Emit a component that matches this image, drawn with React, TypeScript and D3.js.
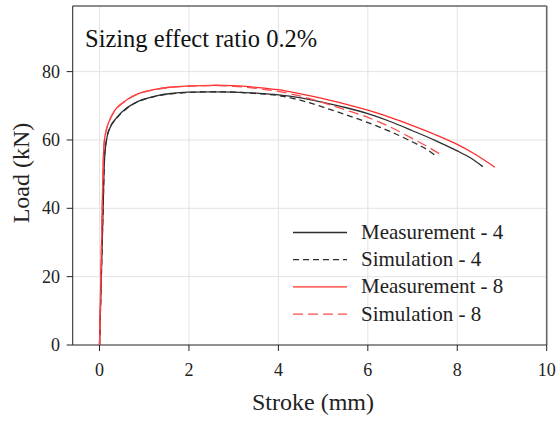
import React from "react";
import * as d3 from "d3";

const m4X = [0, 0.04, 0.08, 0.11, 0.13, 0.19, 0.27, 0.37, 0.5, 0.67, 0.9, 1.27, 1.6, 2, 2.5, 3, 3.5, 4, 4.5, 5, 5.5, 6, 6.5, 7, 7.5, 8, 8.3, 8.57];
const m4Y = [0, 20, 40, 54, 57.5, 62, 64.5, 66.3, 68.2, 69.9, 71.5, 72.9, 73.6, 74.0, 74.1, 74.0, 73.7, 73.2, 72.3, 71.0, 69.5, 67.7, 65.4, 62.7, 59.9, 56.8, 54.7, 52.2];

const s4X = [0, 0.04, 0.08, 0.11, 0.13, 0.19, 0.27, 0.37, 0.5, 0.67, 0.9, 1.27, 1.6, 2, 2.5, 3, 3.5, 4, 4.5, 5, 5.5, 6, 6.5, 7, 7.3, 7.54];
const s4Y = [0, 20, 40, 54, 57.8, 62.2, 64.6, 66.2, 68.0, 69.8, 71.4, 72.8, 73.5, 73.9, 74.1, 74.0, 73.6, 73.0, 71.6, 69.6, 67.4, 65.1, 62.5, 59.4, 57.4, 55.1];

const m8X = [0, 0.03, 0.06, 0.09, 0.11, 0.15, 0.2, 0.3, 0.4, 0.52, 0.7, 0.9, 1.27, 1.6, 2, 2.5, 3, 3.5, 4, 4.5, 5, 5.5, 6, 6.5, 7, 7.5, 8, 8.4, 8.84];
const m8Y = [0, 20, 40, 56, 60, 62.9, 65, 67.8, 69.6, 70.9, 72.5, 73.7, 74.9, 75.5, 75.8, 76.0, 75.9, 75.4, 74.7, 73.5, 72.1, 70.5, 68.7, 66.6, 64.2, 61.6, 58.7, 55.8, 52.0];

const s8X = [0, 0.03, 0.06, 0.09, 0.11, 0.15, 0.2, 0.3, 0.4, 0.52, 0.7, 0.9, 1.27, 1.6, 2, 2.5, 3, 3.5, 4, 4.5, 5, 5.5, 6, 6.5, 7, 7.3, 7.61];
const s8Y = [0, 20, 40, 56, 60, 62.8, 64.9, 67.7, 69.5, 70.8, 72.4, 73.6, 74.8, 75.4, 75.7, 75.9, 75.7, 75.1, 74.2, 72.8, 70.9, 68.8, 66.6, 63.8, 60.4, 58.3, 55.9];

const xTicks = [0, 2, 4, 6, 8, 10];
const yTicks = [0, 20, 40, 60, 80];
const legendLabels = ["Measurement - 4", "Simulation - 4", "Measurement - 8", "Simulation - 8"];

const FONT = "'Liberation Serif', 'Times New Roman', serif";

export default function App() {
  const x = d3.scaleLinear().domain([-0.6, 10]).range([72.7, 546.7]);
  const y = d3.scaleLinear().domain([0, 99.2]).range([345, 6]);

  const mk = (xs: number[], ys: number[]) =>
    d3
      .line<number>()
      .x((_, i) => x(xs[i]))
      .y((d) => y(d))
      .curve(d3.curveCatmullRom.alpha(0.5))(ys) as string;

  const series = [
    { d: mk(m4X, m4Y), color: "#2e2e2e", dash: "" },
    { d: mk(s4X, s4Y), color: "#2e2e2e", dash: "6,4" },
    { d: mk(m8X, m8Y), color: "#ff2b2b", dash: "" },
    { d: mk(s8X, s8Y), color: "#ff4a4a", dash: "10,5" },
  ];

  const [x0, x1] = x.range();
  const [yb, yt] = y.range();

  return (
    <svg width={558} height={423} style={{ position: "absolute", left: 0, top: 0, background: "#fff" }}>
      {xTicks.filter((t) => t < 10).map((t) => (
        <line key={"gx" + t} x1={x(t)} x2={x(t)} y1={yt} y2={yb} stroke="#e3e3e3" strokeWidth={1} />
      ))}
      {yTicks.filter((t) => t > 0).map((t) => (
        <line key={"gy" + t} x1={x0} x2={x1} y1={y(t)} y2={y(t)} stroke="#e3e3e3" strokeWidth={1} />
      ))}
      <line x1={x0} x2={x1} y1={yt} y2={yt} stroke="#666" strokeWidth={1.6} />
      <line x1={x1} x2={x1} y1={yt} y2={yb} stroke="#666" strokeWidth={1.6} />
      <line x1={x0} x2={x0} y1={yt} y2={yb} stroke="#222" strokeWidth={1} />
      <line x1={x0} x2={x1} y1={yb} y2={yb} stroke="#222" strokeWidth={1} />
      {yTicks.map((t) => (
        <g key={"ty" + t}>
          <line x1={x0 - 6} x2={x0} y1={y(t)} y2={y(t)} stroke="#222" strokeWidth={1} />
          <text x={60} y={y(t) + 6} textAnchor="end" fontFamily={FONT} fontSize={18} fill="#222">{t}</text>
        </g>
      ))}
      {xTicks.map((t) => (
        <g key={"tx" + t}>
          <line x1={x(t)} x2={x(t)} y1={yb} y2={yb + 6} stroke="#222" strokeWidth={1} />
          <text x={x(t)} y={376} textAnchor="middle" fontFamily={FONT} fontSize={18} fill="#222">{t}</text>
        </g>
      ))}
      {series.map((s, i) => (
        <path key={i} d={s.d} fill="none" stroke={s.color} strokeWidth={1.3} strokeDasharray={s.dash || undefined} />
      ))}
      <text x={85} y={47} fontFamily={FONT} fontSize={24.5} fill="#111">Sizing effect ratio 0.2%</text>
      <text x={313} y={410} textAnchor="middle" fontFamily={FONT} fontSize={24} fill="#222">Stroke (mm)</text>
      <text transform="translate(29,173) rotate(-90)" textAnchor="middle" fontFamily={FONT} fontSize={24} fill="#222">Load (kN)</text>
      {legendLabels.map((lab, i) => {
        const by = 239 + i * 27.2;
        const s = series[i];
        return (
          <g key={lab}>
            <line x1={293} x2={347} y1={by - 6.5} y2={by - 6.5} stroke={s.color} strokeWidth={1.3} strokeDasharray={s.dash || undefined} />
            <text x={361} y={by} fontFamily={FONT} fontSize={21} fill="#222">{lab}</text>
          </g>
        );
      })}
    </svg>
  );
}
